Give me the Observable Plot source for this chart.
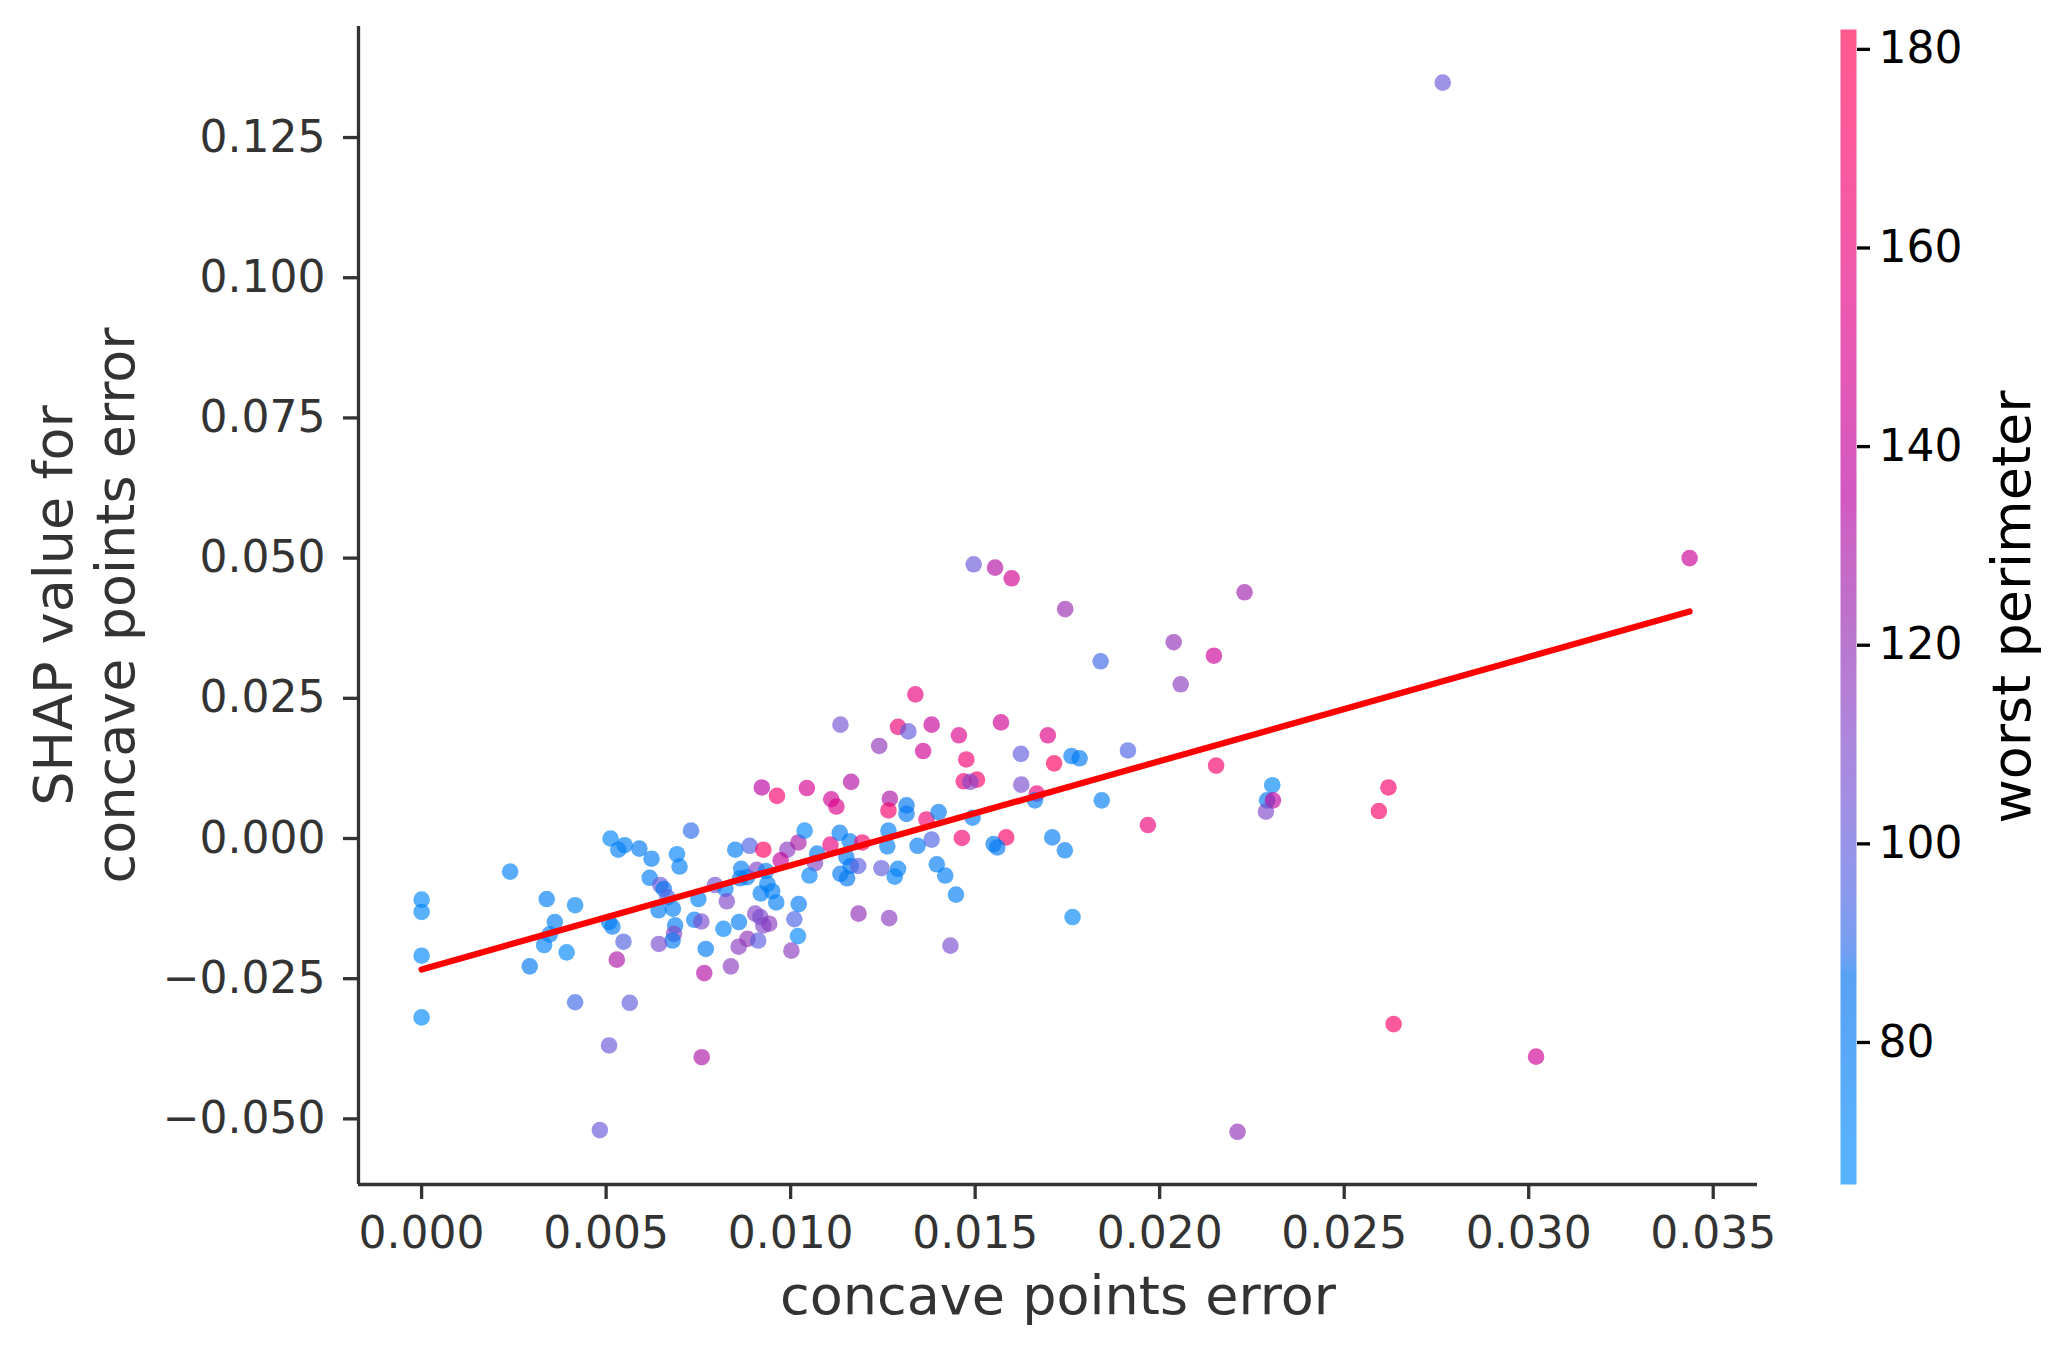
<!DOCTYPE html>
<html>
<head>
<meta charset="utf-8">
<script src="https://cdn.jsdelivr.net/npm/d3@7"></script>
<script src="https://cdn.jsdelivr.net/npm/@observablehq/plot@0.6"></script>
<style>
  html, body { margin: 0; padding: 0; background: #ffffff; }
  #chart { position: relative; width: 2069px; height: 1357px; overflow: hidden; }
  #chart svg { position: absolute; left: 0; top: 0; }
</style>
</head>
<body>
<div id="chart"></div>
<script>
// ---- data ----
const concavePointsError = [
  0.0000, 0.0000, 0.0000, 0.0000, 0.0024, 0.00339, 0.00416, 0.00361, 0.00347, 0.00332,
  0.00393, 0.00293, 0.00416, 0.00564, 0.00512, 0.0055, 0.00533, 0.0059, 0.00623, 0.00692,
  0.00699, 0.0073, 0.00618, 0.00647, 0.00656, 0.00666, 0.00681, 0.00642, 0.00508, 0.00517,
  0.00547, 0.00529, 0.00687, 0.00684, 0.0068, 0.00643, 0.0077, 0.00766, 0.00838, 0.0075,
  0.00739, 0.00758, 0.00795, 0.00823, 0.00827, 0.00818, 0.0086, 0.00859, 0.00883, 0.00912,
  0.00904, 0.00918, 0.00926, 0.00942, 0.0085, 0.00889, 0.00866, 0.00863, 0.00882, 0.00908,
  0.00933, 0.00937, 0.00919, 0.0095, 0.00961, 0.00926, 0.00922, 0.00963, 0.00991, 0.00973,
  0.01021, 0.01038, 0.01072, 0.01066, 0.01051, 0.01022, 0.0101, 0.0102, 0.01002, 0.01044,
  0.0111, 0.01124, 0.01164, 0.01135, 0.01108, 0.01133, 0.0116, 0.01194, 0.01151, 0.01163,
  0.01183, 0.01135, 0.01153, 0.01184, 0.0124, 0.01246, 0.00508, 0.00759, 0.00483,
  0.01496, 0.01554, 0.01599, 0.01744, 0.0223, 0.0184, 0.02038, 0.02147, 0.02057, 0.01338,
  0.01291, 0.01319, 0.01382, 0.01359, 0.01456, 0.0157, 0.01697, 0.01476, 0.01624, 0.01714,
  0.01761, 0.01783, 0.01914, 0.01469, 0.01505, 0.01487, 0.01625, 0.01667, 0.01662, 0.01843,
  0.02153, 0.02305, 0.02291, 0.02307, 0.02288, 0.01968, 0.01269, 0.01265, 0.01314, 0.01314,
  0.01368, 0.01401, 0.01493, 0.01265, 0.01262, 0.01344, 0.01382, 0.01464, 0.01584, 0.0155,
  0.0156, 0.01709, 0.01743, 0.01291, 0.01282, 0.01396, 0.01419, 0.01448, 0.01267, 0.01433,
  0.01764, 0.02211, 0.03436, 0.0262, 0.02594, 0.02634, 0.0302, 0.02767
];
const shapValue = [
  -0.0109, -0.0131, -0.0209, -0.0319, -0.0059, -0.0108, -0.0119, -0.0149, -0.0171, -0.0190,
  -0.0203, -0.0228, -0.0292, -0.0293, 0.0000, -0.0012, -0.0020, -0.0018, -0.0036, -0.0028,
  -0.0050, 0.0014, -0.0070, -0.0083, -0.0090, -0.0105, -0.0125, -0.0128, -0.0149, -0.0157,
  -0.0184, -0.0216, -0.0155, -0.0170, -0.0182, -0.0188, -0.0197, -0.0240, -0.0228, -0.0108,
  -0.0145, -0.0148, -0.0083, -0.0090, -0.0112, -0.0161, -0.0149, -0.0193, -0.0179, -0.0182,
  -0.0134, -0.0140, -0.0155, -0.0152, -0.0020, -0.0013, -0.0054, -0.0071, -0.0069, -0.0056,
  -0.0058, -0.0081, -0.0098, -0.0094, -0.0114, -0.0020, 0.0091, 0.0076, -0.0020, -0.0039,
  -0.0007, 0.0014, -0.0027, -0.0044, -0.0066, -0.0117, -0.0144, -0.0174, -0.0200, 0.0090,
  0.0070, 0.0057, 0.0101, 0.0203, -0.0011, 0.0010, -0.0005, -0.0007, -0.0033, -0.0049,
  -0.0049, -0.0063, -0.0071, -0.0134, 0.0165, -0.0053, -0.0369, -0.0390, -0.0520,
  0.0489, 0.0483, 0.0464, 0.0409, 0.0439, 0.0316, 0.0350, 0.0326, 0.0275, 0.0257,
  0.0199, 0.0191, 0.0203, 0.0156, 0.0184, 0.0207, 0.0184, 0.0141, 0.0151, 0.0134,
  0.0147, 0.0143, 0.0157, 0.0102, 0.0105, 0.0101, 0.0096, 0.0080, 0.0068, 0.0068,
  0.0130, 0.0095, 0.0068, 0.0068, 0.0048, 0.0024, 0.0071, 0.0050, 0.0059, 0.0044,
  0.0034, 0.0047, 0.0037, 0.0014, -0.0014, -0.0013, -0.0002, 0.0001, 0.0002, -0.0010,
  -0.0016, 0.0002, -0.0021, -0.0054, -0.0068, -0.0046, -0.0066, -0.0100, -0.0142, -0.0191,
  -0.0140, -0.0523, 0.0500, 0.0091, 0.0049, -0.0331, -0.0389, 0.1348
];
const worstPerimeter = [
  70, 70, 70, 70, 75, 76, 72, 76, 75, 74,
  70, 82, 92, 100, 72, 76, 76, 80, 78, 74,
  76, 90, 77, 102, 84, 95, 76, 78, 76, 78,
  96, 130, 76, 112, 80, 108, 80, 132, 115, 75,
  76, 108, 105, 74, 110, 72, 76, 115, 118, 98,
  112, 108, 110, 115, 76, 95, 76, 80, 80, 110,
  74, 76, 76, 76, 76, 175, 135, 168, 115, 140,
  128, 70, 78, 112, 74, 78, 95, 70, 115, 148,
  145, 150, 132, 105, 158, 78, 78, 168, 78, 82,
  98, 80, 82, 120, 118, 100, 102, 130, 102,
  102, 132, 145, 122, 125, 92, 120, 142, 115, 158,
  162, 100, 140, 145, 150, 145, 152, 165, 100, 175,
  80, 80, 95, 165, 170, 112, 108, 160, 78, 76,
  170, 70, 80, 138, 110, 160, 130, 168, 85, 82,
  165, 80, 76, 76, 76, 78, 95, 165, 172, 80,
  82, 78, 76, 76, 74, 78, 76, 76, 115, 108,
  70, 120, 142, 170, 170, 170, 145, 102
];

// fitted trend line (endpoints)
const fitX = [0.0, 0.03436];
const fitY = [-0.02336, 0.04048];

// axes
const xDomain = [-0.00171, 0.0362];
const yDomain = [-0.0617, 0.1448];
const xTicks = [0, 0.005, 0.01, 0.015, 0.02, 0.025, 0.03, 0.035];
const yTicks = [-0.05, -0.025, 0, 0.025, 0.05, 0.075, 0.1, 0.125];
const cbDomain = [65.7, 182];
const cbTicks = [80, 100, 120, 140, 160, 180];

const xLabel = "concave points error";
const yLabel = "SHAP value for\nconcave points error";
const cbLabel = "worst perimeter";

// ---- shap "red_blue" colormap (LCH interpolation, D65) ----
function lab2rgb(L, a, b) {
  const fy = (L + 16) / 116, fx = fy + a / 500, fz = fy - b / 200;
  const finv = t => t > 0.2068966 ? t * t * t : (t - 16 / 116) / 7.787;
  const X = 0.95047 * finv(fx), Y = finv(fy), Z = 1.08883 * finv(fz);
  const lin = [
    3.24048134 * X - 1.53715152 * Y - 0.49853633 * Z,
    -0.96925495 * X + 1.87599 * Y + 0.04155593 * Z,
    0.05564664 * X - 0.20404134 * Y + 1.05731107 * Z
  ];
  const g = lin.map(c => {
    const v = c > 0.0031308 ? 1.055 * Math.pow(c, 1 / 2.4) - 0.055 : 12.92 * c;
    return Math.round(255 * Math.max(0, Math.min(1, v)));
  });
  return `rgb(${g[0]},${g[1]},${g[2]})`;
}
function shapRedBlue(t) {
  t = Math.max(0, Math.min(1, t));
  const i = t * 99;
  const L = i <= 49 ? 54 - 14 * i / 49 : (i >= 50 ? 40 + 14 * (i - 50) / 49 : 40);
  const C = 70 + 20 * t;
  const H = 4.6588 + (0.35470565 + 2 * Math.PI - 4.6588) * t;
  return lab2rgb(L, C * Math.cos(H), C * Math.sin(H));
}
const colorScale = {type: "linear", domain: cbDomain, interpolate: shapRedBlue, clamp: true};

const points = concavePointsError.map((x, i) => ({x, y: shapValue[i], p: worstPerimeter[i]}));
const fit = fitX.map((x, i) => ({x, y: fitY[i]}));

const fontFamily = "'DejaVu Sans', sans-serif";
const axisColor = "#333333";

const main = Plot.plot({
  width: 2069,
  height: 1357,
  marginLeft: 358,
  marginRight: 312,
  marginTop: 26,
  marginBottom: 173,
  style: {fontFamily, background: "transparent", overflow: "visible"},
  x: {domain: xDomain},
  y: {domain: yDomain},
  color: colorScale,
  marks: [
    Plot.dot(points, {x: "x", y: "y", fill: "p", r: 8.3, fillOpacity: 0.65, stroke: "none"}),
    Plot.line(fit, {x: "x", y: "y", stroke: "#ff0000", strokeWidth: 6.25}),
    Plot.axisX({ticks: xTicks, tickFormat: d3.format(".3f"), tickSize: 15, tickPadding: 17,
      fontSize: 44, color: axisColor, strokeWidth: 3.3, label: null}),
    Plot.axisY({ticks: yTicks, tickFormat: d3.format(".3f"), tickSize: 15, tickPadding: 18,
      fontSize: 44, color: axisColor, strokeWidth: 3.3, label: null}),
    Plot.ruleX([xDomain[0]], {stroke: axisColor, strokeWidth: 3.3}),
    Plot.ruleY([yDomain[0]], {stroke: axisColor, strokeWidth: 3.3}),
    Plot.text([xLabel], {text: d => d, frameAnchor: "bottom", dy: 91, lineAnchor: "top",
      textAnchor: "middle", fontSize: 54, fill: axisColor}),
    Plot.text([yLabel], {text: d => d, frameAnchor: "left", dx: -275, rotate: -90,
      textAnchor: "middle", lineAnchor: "middle", lineHeight: 1.15, fontSize: 54, fill: axisColor})
  ]
});

const colorbar = Plot.plot({
  width: 2069,
  height: 1357,
  marginLeft: 1840,
  marginRight: 213,
  marginTop: 29,
  marginBottom: 173,
  style: {fontFamily, background: "transparent", overflow: "visible"},
  x: {domain: [0, 1], axis: null},
  y: {domain: cbDomain},
  color: colorScale,
  marks: [
    Plot.raster({x1: 0, x2: 1, y1: cbDomain[0], y2: cbDomain[1], width: 1, height: 600,
      fill: (x, y) => y, fillOpacity: 0.65}),
    Plot.axisY({anchor: "right", ticks: cbTicks, tickSize: 13, tickPadding: 9,
      fontSize: 44, color: "#000000", strokeWidth: 3.3, label: null}),
    Plot.text([cbLabel], {text: d => d, frameAnchor: "right", dx: 156, rotate: -90,
      textAnchor: "middle", lineAnchor: "middle", fontSize: 54, fill: "#000000"})
  ]
});

const host = document.getElementById("chart");
host.appendChild(main);
host.appendChild(colorbar);
</script>
</body>
</html>
